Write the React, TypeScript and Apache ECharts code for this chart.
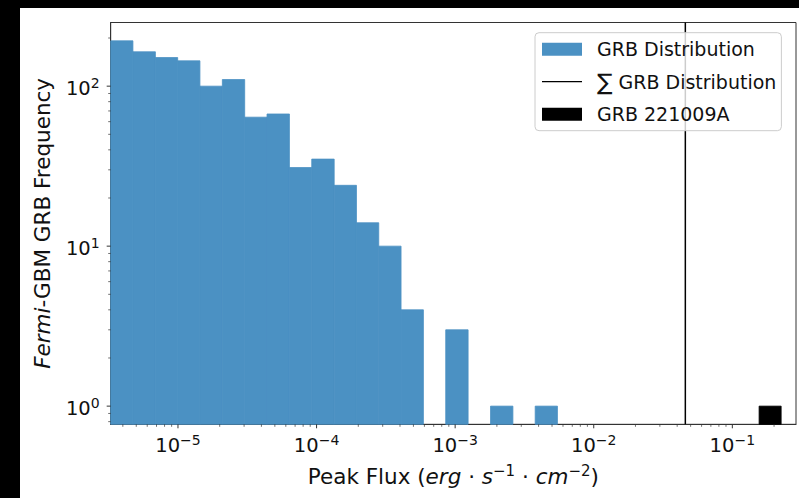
import React, { useEffect, useRef } from "react";
import * as echarts from "echarts";

// Histogram bin edges (log-spaced) and counts
const BIN_EDGES = [
  3.27e-6, 4.73e-6, 6.87e-6, 9.95e-6, 1.44e-5, 2.09e-5, 3.03e-5, 4.39e-5,
  6.37e-5, 9.23e-5, 1.34e-4, 1.94e-4, 2.81e-4, 4.07e-4, 5.9e-4, 8.55e-4,
  1.24e-3, 1.8e-3, 2.61e-3, 3.78e-3, 5.47e-3,
];
const GRB_COUNTS = [192, 164, 151, 144, 100, 110, 64, 67, 31, 35, 24, 14, 10, 4, 0, 3, 0, 1, 0, 1];
const GRB221009A_BIN = [0.156, 0.225];
const GRB221009A_COUNT = 1;
const SUM_FLUX = 0.0458;

const X_MIN = 3.27e-6;
const X_MAX = 0.288;
const Y_MIN = 0.77;
const Y_MAX = 250;

const X_DECADES = [-6, -5, -4, -3, -2, -1];
const X_TICK_EXP: Record<string, string> = {
  "-5": "−5",
  "-4": "−4",
  "-3": "−3",
  "-2": "−2",
  "-1": "−1",
};
const Y_DECADES = [-1, 0, 1, 2];
const Y_TICK_EXP: Record<string, string> = {
  "0": "0",
  "1": "1",
  "2": "2",
};
const MINOR_MULTIPLES = [2, 3, 4, 5, 6, 7, 8, 9];

const LEG_HIST = "GRB Distribution";
const LEG_SUM = "∑ GRB Distribution";
const LEG_EVENT = "GRB 221009A";

const FONT = "DejaVu Sans";
const FS = 19.5;
const FS_NAME = 21.5;
const BLUE = "#4b91c3";
const AXIS = "#333";
const TXT = "#111";

function ticksFor(decades: number[], lo: number, hi: number) {
  const major: number[] = [];
  const minor: number[] = [];
  decades.forEach((d) => {
    const b = Math.pow(10, d);
    if (b >= lo && b <= hi) major.push(b);
    MINOR_MULTIPLES.forEach((m) => {
      const v = m * b;
      if (v >= lo && v <= hi) minor.push(v);
    });
  });
  return { major, minor };
}

function labelFor(map: Record<string, string>) {
  return (v: number) => {
    const l = Math.log10(v);
    const r = Math.round(l);
    if (Math.abs(l - r) > 1e-6) return "";
    const e = map[String(r)];
    return e === undefined ? "" : "{b|10}{sup|" + e + "}";
  };
}

const tickRich = {
  b: { fontFamily: FONT, fontSize: FS, lineHeight: 24, color: TXT },
  sup: { fontFamily: FONT, fontSize: 14, lineHeight: 14, verticalAlign: "top", color: TXT },
};

export default function App() {
  const ref = useRef<HTMLDivElement>(null);

  useEffect(() => {
    if (!ref.current) return;
    const chart = echarts.init(ref.current, undefined, { renderer: "svg" });

    const xt = ticksFor(X_DECADES, X_MIN, X_MAX);
    const yt = ticksFor(Y_DECADES, Y_MIN, Y_MAX);

    const histData: number[][] = [];
    GRB_COUNTS.forEach((c, i) => {
      if (c > 0) histData.push([BIN_EDGES[i], BIN_EDGES[i + 1], c]);
    });

    const barRender = (fill: string) => (params: any, api: any) => {
      const x0 = api.value(0);
      const x1 = api.value(1);
      const c = api.value(2);
      const p0 = api.coord([x0, c]);
      const p1 = api.coord([x1, c]);
      const cs = params.coordSys;
      const bottom = cs.y + cs.height;
      return {
        type: "rect",
        shape: { x: p0[0], y: p0[1], width: p1[0] - p0[0], height: bottom - p0[1] },
        style: { fill, stroke: fill, lineWidth: 0.8 },
      };
    };

    const xTickRender = (len: number, w: number) => (params: any, api: any) => {
      const x = api.coord([api.value(0), Y_MIN])[0];
      const cs = params.coordSys;
      const y0 = cs.y + cs.height;
      return {
        type: "line",
        shape: { x1: x, y1: y0, x2: x, y2: y0 + len },
        style: { stroke: AXIS, lineWidth: w },
      };
    };
    const yTickRender = (len: number, w: number) => (params: any, api: any) => {
      const y = api.coord([X_MIN, api.value(1)])[1];
      const cs = params.coordSys;
      const x0 = cs.x;
      return {
        type: "line",
        shape: { x1: x0, y1: y, x2: x0 - len, y2: y },
        style: { stroke: AXIS, lineWidth: w },
      };
    };

    const nameRich = {
      n: { fontFamily: FONT, fontSize: FS_NAME, lineHeight: 26, color: TXT },
      it: { fontFamily: FONT, fontSize: FS_NAME, lineHeight: 26, fontStyle: "italic", color: TXT },
      sup: { fontFamily: FONT, fontSize: 15, lineHeight: 16, verticalAlign: "top", color: TXT },
    };

    const option: any = {
      animation: false,
      backgroundColor: "#ffffff",
      textStyle: { fontFamily: FONT },
      grid: {
        left: 90.7,
        top: 14.5,
        right: 3,
        bottom: 73.7,
        containLabel: false,
        outerBoundsMode: "none",
        show: true,
        borderColor: AXIS,
        borderWidth: 1,
        backgroundColor: "transparent",
      },
      legend: {
        orient: "vertical",
        left: 515,
        top: 24.7,
        selectedMode: false,
        itemWidth: 40,
        itemHeight: 13,
        itemGap: 11.5,
        padding: [7, 5, 7, 7],
        backgroundColor: "rgba(255,255,255,0.8)",
        borderColor: "#cccccc",
        borderWidth: 1,
        borderRadius: 4,
        symbolKeepAspect: true,
        data: [
          { name: LEG_HIST, icon: "rect" },
          { name: LEG_SUM, icon: "path://M0,0H40V1.3H0Z" },
          { name: LEG_EVENT, icon: "rect" },
        ],
        formatter: (name: string) =>
          name === LEG_SUM ? "{sum|∑} " + name.replace("∑ ", "") : name,
        textStyle: {
          fontFamily: FONT,
          fontSize: 19,
          color: TXT,
          padding: [0, 0, 0, 10],
          rich: {
            sum: { fontFamily: FONT, fontSize: 23, color: TXT },
          },
        },
      },
      xAxis: {
        type: "log",
        logBase: 10,
        min: X_MIN,
        max: X_MAX,
        splitLine: { show: false },
        axisTick: { show: false },
        axisLine: { show: true, lineStyle: { color: AXIS, width: 1 } },
        axisLabel: {
          formatter: labelFor(X_TICK_EXP),
          fontFamily: FONT,
          fontSize: FS,
          color: TXT,
          margin: 9,
          showMinLabel: false,
          showMaxLabel: false,
          rich: tickRich,
        },
        name: "{n|Peak Flux (}{it|erg}{n| · }{it|s}{sup|−1}{n| · }{it|cm}{sup|−2}{n|)}",
        nameLocation: "middle",
        nameGap: 39,
        nameTextStyle: {
          fontFamily: FONT,
          fontSize: FS_NAME,
          color: TXT,
          rich: nameRich,
        },
      },
      yAxis: {
        type: "log",
        logBase: 10,
        min: Y_MIN,
        max: Y_MAX,
        splitLine: { show: false },
        axisTick: { show: false },
        axisLine: { show: true, lineStyle: { color: AXIS, width: 1 } },
        axisLabel: {
          formatter: labelFor(Y_TICK_EXP),
          fontFamily: FONT,
          fontSize: FS,
          color: TXT,
          margin: 11,
          padding: [4, 0, 0, 0],
          showMinLabel: false,
          showMaxLabel: false,
          rich: tickRich,
        },
        name: "{it|Fermi}{n|-GBM GRB Frequency}",
        nameLocation: "middle",
        nameGap: 55,
        nameTextStyle: {
          fontFamily: FONT,
          fontSize: FS_NAME,
          color: TXT,
          rich: nameRich,
        },
      },
      series: [
        {
          name: LEG_HIST,
          type: "custom",
          renderItem: barRender(BLUE),
          itemStyle: { color: BLUE },
          data: histData,
          encode: { x: [0, 1], y: 2 },
          z: 2,
        },
        {
          name: LEG_SUM,
          type: "line",
          data: [
            [SUM_FLUX, Y_MIN],
            [SUM_FLUX, Y_MAX],
          ],
          symbol: "none",
          lineStyle: { color: "#000", width: 1.5 },
          itemStyle: { color: "#000" },
          z: 3,
        },
        {
          name: LEG_EVENT,
          type: "custom",
          renderItem: barRender("#000"),
          itemStyle: { color: "#000" },
          data: [[GRB221009A_BIN[0], GRB221009A_BIN[1], GRB221009A_COUNT]],
          encode: { x: [0, 1], y: 2 },
          z: 2,
        },
        {
          name: "xMajor",
          type: "custom",
          renderItem: xTickRender(4, 1),
          data: xt.major.map((v) => [v, Y_MIN]),
          silent: true,
          z: 4,
        },
        {
          name: "xMinor",
          type: "custom",
          renderItem: xTickRender(2.5, 0.7),
          data: xt.minor.map((v) => [v, Y_MIN]),
          silent: true,
          z: 4,
        },
        {
          name: "yMajor",
          type: "custom",
          renderItem: yTickRender(4, 1),
          data: yt.major.map((v) => [X_MIN, v]),
          silent: true,
          z: 4,
        },
        {
          name: "yMinor",
          type: "custom",
          renderItem: yTickRender(2.5, 0.7),
          data: yt.minor.map((v) => [X_MIN, v]),
          silent: true,
          z: 4,
        },
      ],
    };

    chart.setOption(option);
    return () => chart.dispose();
  }, []);

  return (
    <div
      style={{
        position: "fixed",
        left: 0,
        top: 0,
        width: 799,
        height: 498,
        background: "#000",
        overflow: "hidden",
      }}
    >
      <div
        ref={ref}
        style={{
          position: "absolute",
          left: 20,
          top: 8,
          width: 779,
          height: 490,
          background: "#fff",
        }}
      />
    </div>
  );
}
